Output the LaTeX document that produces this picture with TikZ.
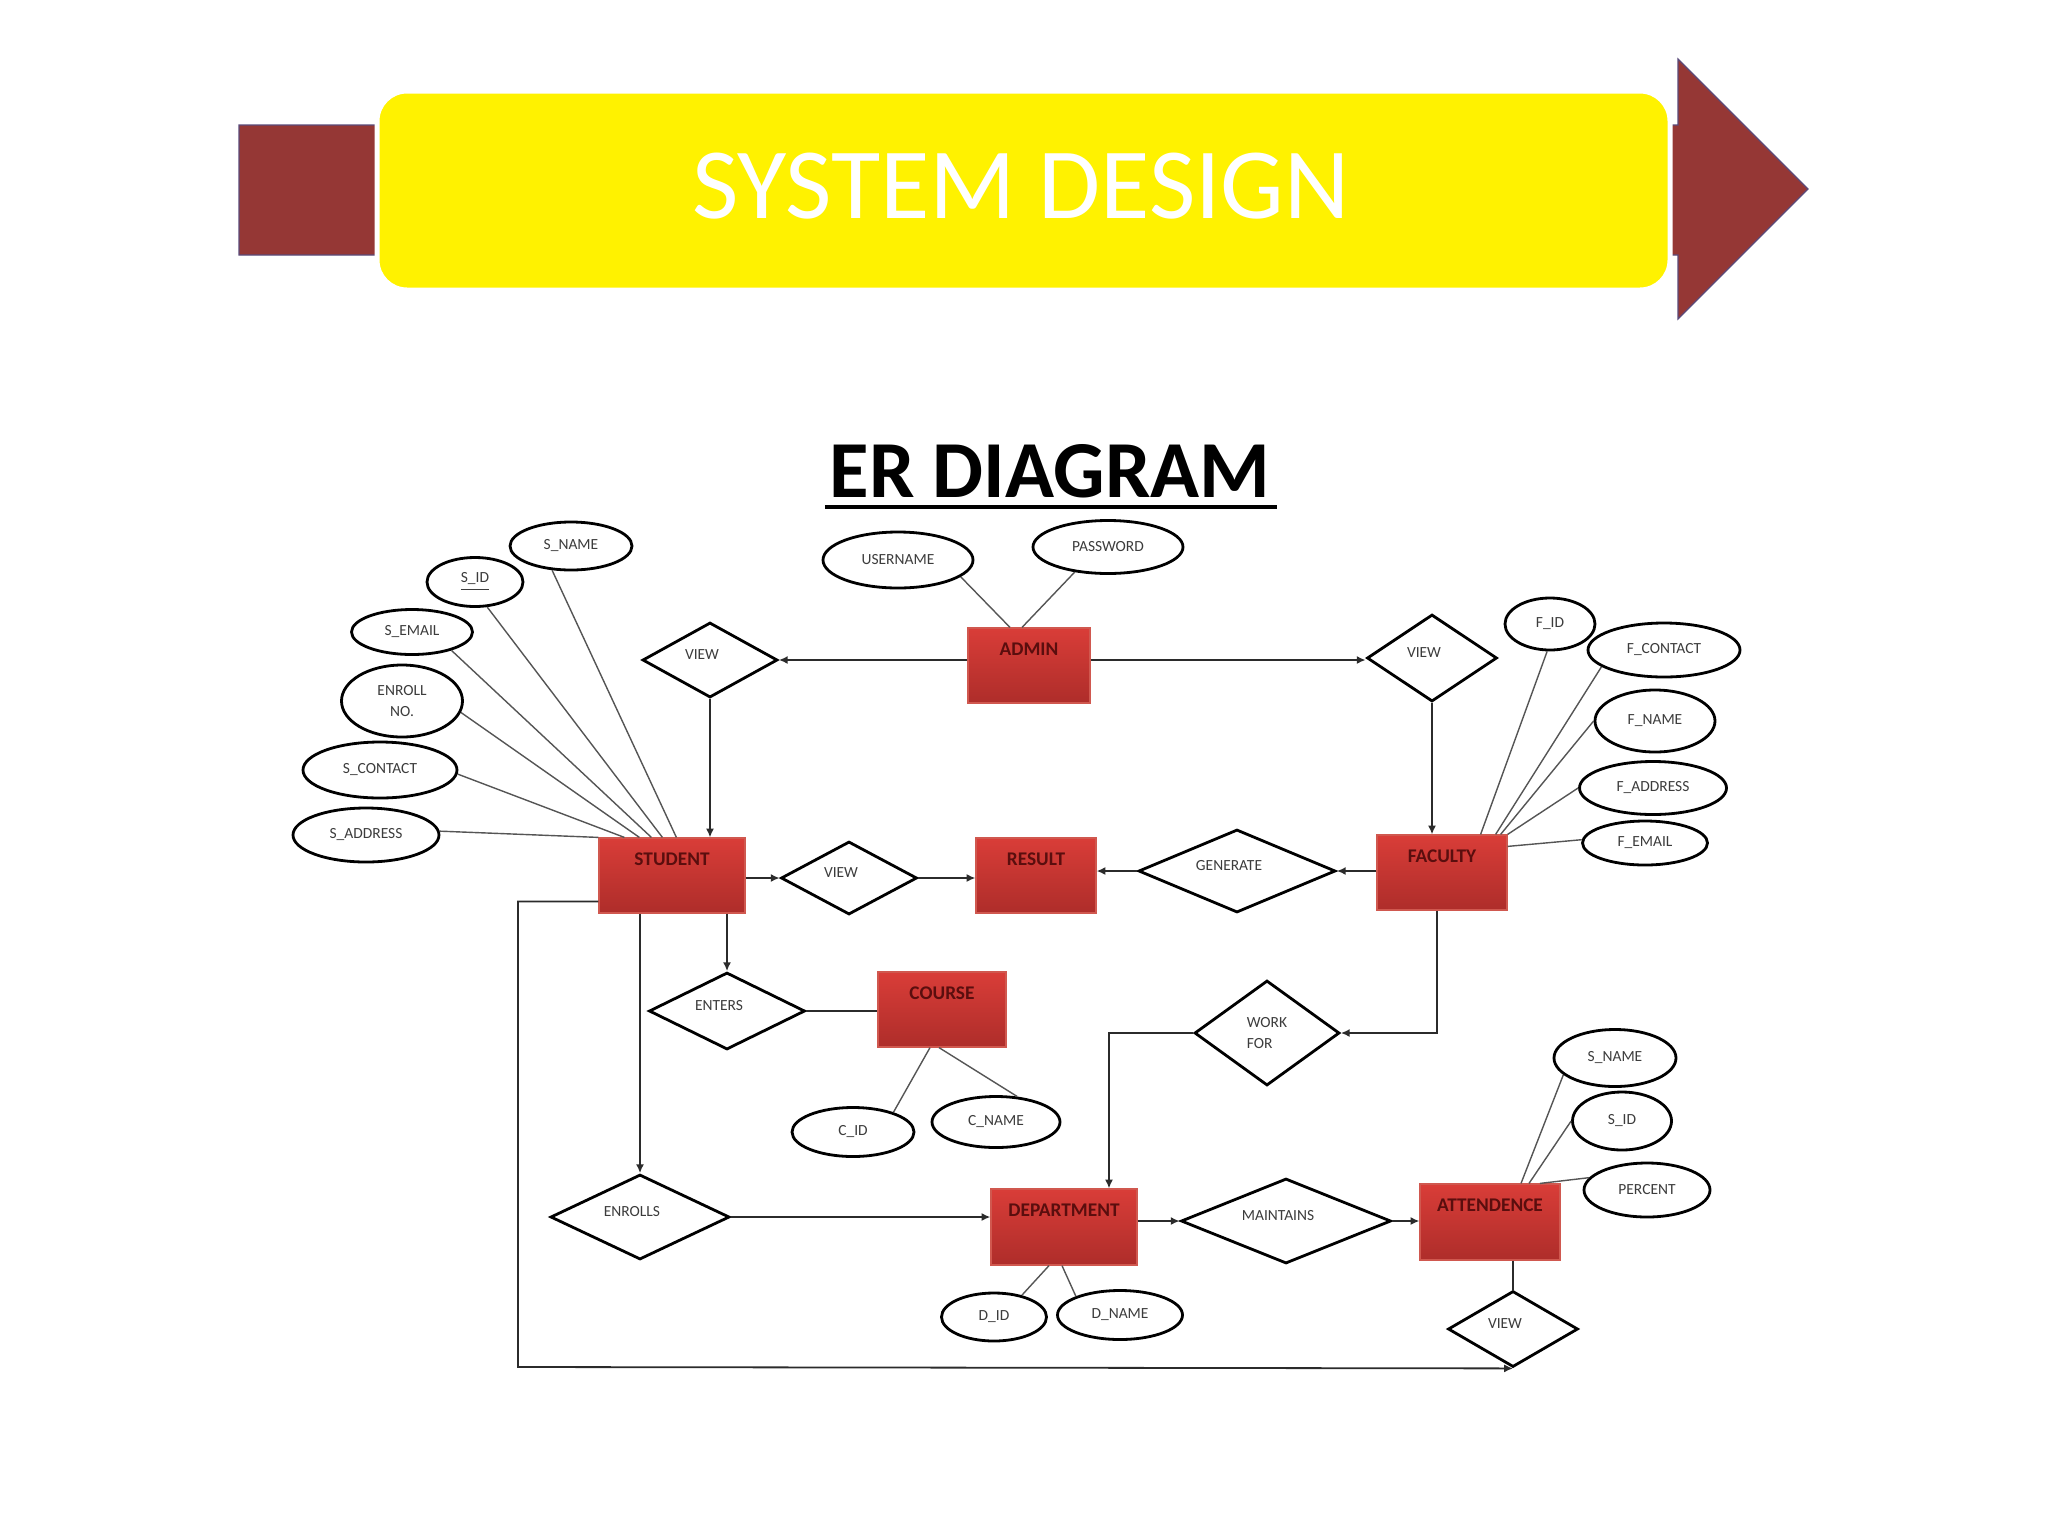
\documentclass[tikz,border=0pt]{standalone}
\usepackage{fontspec}
\setmainfont{Carlito}
\usetikzlibrary{shapes.geometric,arrows.meta,calc}
\newdimen\pxu
\pxu=0.01cm
\definecolor{maroonA}{HTML}{953735}
\definecolor{banneredge}{HTML}{5A4A7A}
\definecolor{enttop}{HTML}{D93D38}
\definecolor{entbot}{HTML}{AE2D2A}
\definecolor{entborder}{HTML}{D0584F}
\definecolor{enttext}{HTML}{5A0E0E}
\definecolor{linegray}{HTML}{2B2B2B}
\definecolor{attline}{HTML}{555555}
\definecolor{attrtext}{HTML}{3C3C3C}
\newcommand\entfont{\fontsize{5.5pt}{6.6pt}\selectfont\bfseries}
\newcommand\attfont{\fontsize{4.4pt}{6pt}\selectfont}
\newcommand\sysfont{\fontsize{28.7pt}{34pt}\selectfont}
\newcommand\erfont{\fontsize{23pt}{28pt}\selectfont\bfseries}
\begin{document}
\begin{tikzpicture}[x=0.01cm, y=-0.01cm,
  entbox/.style 2 args={rectangle, draw=entborder, line width=1.2\pxu, top color=enttop, bottom color=entbot,
    minimum width=#1\pxu, minimum height=#2\pxu, inner sep=0pt, text=enttext, font=\entfont,
    text height=3.7pt, text depth=9.4pt},
  relshape/.style 2 args={diamond, draw=black, line width=2.8\pxu, fill=white,
    minimum width=#1\pxu, minimum height=#2\pxu, inner sep=0pt, text=attrtext, font=\attfont},
  relbox/.style 2 args={relshape={#1}{#2}, text height=2.85pt, text depth=3.15pt,
    execute at begin node={\kern-16\pxu}},
  attbox/.style 2 args={ellipse, draw=black, line width=2.8\pxu, fill=white,
    minimum width=#1\pxu, minimum height=#2\pxu, inner sep=0pt, text=attrtext, font=\attfont, align=center},
  link/.style={draw=linegray, line width=1.8\pxu},
  linkarrow/.style={link, -{Latex[length=2.5pt,width=2.3pt]}},
  attlink/.style={draw=attline, line width=1.4\pxu},
]
\fill[white] (0,0) rectangle (2048,1536);
\path[use as bounding box] (0,0) rectangle (2048,1536);

% banner
\draw[fill=maroonA, draw=banneredge, line width=1.2\pxu]
  (239,125) -- (1678,125) -- (1678,59) -- (1808,189) -- (1678,319) -- (1678,255) -- (239,255) -- cycle;
\draw[fill=yellow, draw=white, line width=5\pxu, rounded corners=30\pxu] (377,91) rectangle (1670,290);
\node[font=\sysfont, text=white, anchor=base, inner sep=0pt] (sys) at (1021,218) {SYSTEM DESIGN};

% title
\node[font=\erfont, anchor=base, inner sep=0pt] (ert) at (1050,497) {ER DIAGRAM};
\draw[line width=4.5\pxu] ([xshift=-4\pxu,yshift=-10\pxu]ert.base west) -- ([xshift=6\pxu,yshift=-10\pxu]ert.base east);

% entities
\node[entbox={122}{75}] (admin) at (1029,665.5) {ADMIN};
\node[entbox={146}{75}] (student) at (672,875.5) {STUDENT};
\node[entbox={120}{75}] (result) at (1036,875.5) {RESULT};
\node[entbox={130}{75}] (faculty) at (1442,872.5) {FACULTY};
\node[entbox={128}{75}] (course) at (942,1009.5) {COURSE};
\node[entbox={146}{76}] (dept) at (1064,1227) {DEPARTMENT};
\node[entbox={140}{76}] (attend) at (1490,1222) {ATTENDENCE};

% relationships
\node[relbox={135}{75}] (viewtl) at (710,660) {VIEW};
\node[relbox={130}{87}] (viewtr) at (1432,658) {VIEW};
\node[relbox={136}{73}] (viewm) at (849,878) {VIEW};
\node[relbox={197}{83}] (gen) at (1237,871) {GENERATE};
\node[relbox={156}{77}] (enters) at (727,1011) {ENTERS};
\node[relshape={145}{105}, align=left] (workfor) at (1267,1033) {WORK\\FOR};
\node[relbox={179}{85}] (enrolls) at (640,1217) {ENROLLS};
\node[relbox={210}{85}] (maint) at (1286,1221) {MAINTAINS};
\node[relbox={130}{76}] (viewb) at (1513,1329) {VIEW};

% attributes
\node[attbox={122}{48}] (sname) at (571,546) {S\_NAME};
\node[attbox={96}{49}] (sid) at (475,582) {\underline{S\_ID}};
\node[attbox={121}{45}] (semail) at (412,632) {S\_EMAIL};
\node[attbox={121}{72}] (enroll) at (402,701) {ENROLL\\NO.};
\node[attbox={154}{56}] (scontact) at (380,770) {S\_CONTACT};
\node[attbox={146}{54}] (saddr) at (366,835) {S\_ADDRESS};
\node[attbox={150}{56}] (user) at (898,560) {USERNAME};
\node[attbox={150}{53}] (pass) at (1108,547) {PASSWORD};
\node[attbox={90}{52}] (fid) at (1550,624) {F\_ID};
\node[attbox={152}{54}] (fcontact) at (1664,650) {F\_CONTACT};
\node[attbox={120}{62}] (fname) at (1655,721) {F\_NAME};
\node[attbox={147}{53}] (faddr) at (1653,788) {F\_ADDRESS};
\node[attbox={125}{44}] (femail) at (1645,843) {F\_EMAIL};
\node[attbox={122}{49}] (cid) at (853,1132) {C\_ID};
\node[attbox={128}{51}] (cname) at (996,1122) {C\_NAME};
\node[attbox={105}{48}] (did) at (994,1317) {D\_ID};
\node[attbox={125}{49}] (dname) at (1120,1315) {D\_NAME};
\node[attbox={122}{57}] (asname) at (1615,1058) {S\_NAME};
\node[attbox={99}{58}] (asid) at (1622,1121) {S\_ID};
\node[attbox={126}{54}] (percent) at (1647,1190) {PERCENT};

% relationship connectors
\draw[linkarrow] (viewtl -| admin.west) -- (viewtl.east);
\draw[linkarrow] (viewtl -| admin.east) -- (viewtl -| viewtr.west);
\draw[linkarrow] (viewtl.south) -- (viewtl.south |- student.north);
\draw[linkarrow] (viewtr.south) -- (viewtr.south |- faculty.north);
\draw[linkarrow] (viewm -| student.east) -- (viewm.west);
\draw[linkarrow] (viewm.east) -- (viewm -| result.west);
\draw[linkarrow] (gen -| faculty.west) -- (gen.east);
\draw[linkarrow] (gen.west) -- (gen -| result.east);
\draw[linkarrow] ([xshift=-5\pxu]faculty.south) |- (workfor.east);
\draw[linkarrow] (workfor.west) -| ([xshift=45\pxu]dept.north);
\draw[linkarrow] (enters.north |- student.south) -- (enters.north);
\draw[link] (enters.east) -- (enters.east -| course.west);
\draw[linkarrow] (enrolls.north |- student.south) -- (enrolls.north);
\draw[linkarrow] (enrolls.east) -- (enrolls.east -| dept.west);
\draw[linkarrow] (maint -| dept.east) -- (maint.west);
\draw[linkarrow] (maint.east) -- (maint -| attend.west);
\draw[link] (viewb.north |- attend.south) -- (viewb.north);
\coordinate (loopc) at (518,1367);
\draw[linkarrow] ([yshift=-26\pxu]student.west) -| (loopc) -- (viewb.south);

% attribute connectors
\draw[attlink] (saddr.3) -- (student.north west);
\draw[attlink] (scontact.357) -- ([xshift=26\pxu]student.north west);
\draw[attlink] (enroll.349) -- ([xshift=41\pxu]student.north west);
\draw[attlink] (semail.335) -- ([xshift=53\pxu]student.north west);
\draw[attlink] (sid.296) -- ([xshift=64\pxu]student.north west);
\draw[attlink] (sname.232) -- ([xshift=78\pxu]student.north west);
\draw[attlink] (user.345) -- ([xshift=-19\pxu]admin.north);
\draw[attlink] (pass.217) -- ([xshift=-7\pxu]admin.north);
\draw[attlink] (fid.264) -- ([xshift=-27\pxu]faculty.north east);
\draw[attlink] (fcontact.195) -- ([xshift=-12\pxu]faculty.north east);
\draw[attlink] (fname.180) -- ([xshift=-7\pxu]faculty.north east);
\draw[attlink] (faddr.180) -- (faculty.north east);
\draw[attlink] (femail.177) -- ([yshift=-12\pxu]faculty.north east);
\draw[attlink] (cid.26) -- ([xshift=-12\pxu]course.south);
\draw[attlink] (cname.50) -- ([xshift=-3\pxu]course.south);
\draw[attlink] (did.38) -- ([xshift=-15\pxu]dept.south);
\draw[attlink] (dname.157) -- ([xshift=-2\pxu]dept.south);
\draw[attlink] (asname.198) -- ([xshift=31\pxu]attend.north);
\draw[attlink] (asid.180) -- ([xshift=39\pxu]attend.north);
\draw[attlink] (percent.168) -- ([xshift=50\pxu]attend.north);
\end{tikzpicture}
\end{document}
